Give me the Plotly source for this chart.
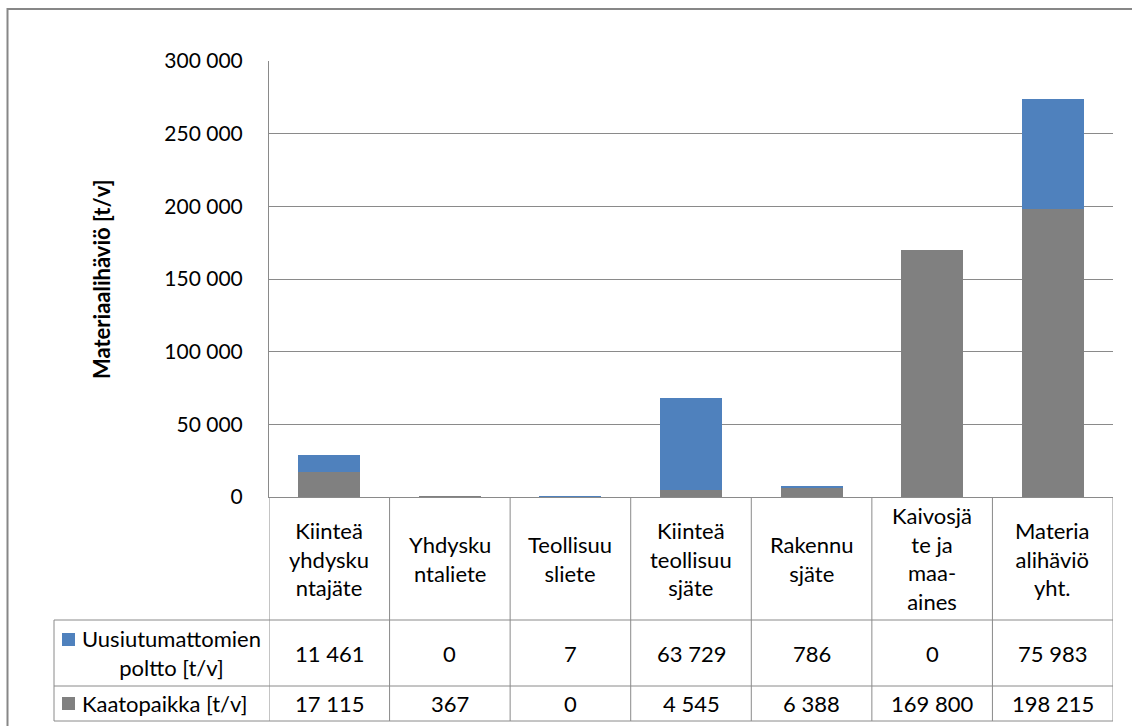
import plotly.graph_objects as go

# Waste categories (pre-wrapped the way they appear in the data table header)
categories = [
    "Kiinteä<br>yhdysku<br>ntajäte",
    "Yhdysku<br>ntaliete",
    "Teollisuu<br>sliete",
    "Kiinteä<br>teollisuu<br>sjäte",
    "Rakennu<br>sjäte",
    "Kaivosjä<br>te ja<br>maa-<br>aines",
    "Materia<br>alihäviö<br>yht.",
]

series_names = ["Uusiutumattomien<br>poltto [t/v]", "Kaatopaikka [t/v]"]

# Material loss by treatment route [t/v]
poltto = [11461, 0, 7, 63729, 786, 0, 75983]
kaatopaikka = [17115, 367, 0, 4545, 6388, 169800, 198215]

y_ticks = [0, 50000, 100000, 150000, 200000, 250000, 300000]

BLUE = "#4F81BD"
GRAY = "#808080"
LINE = "#8a8a8a"
FONT = "Lato"
FS = 22
FS_TICK = 21

W, H = 1132, 726
ML, MR, MT, MB = 269, 19, 61, 229
PW, PH = W - ML - MR, H - MT - MB


def px(xpix):
    return (xpix - ML) / PW


def py(ypix):
    return 1 - (ypix - MT) / PH


def fmt(v):
    return f"{v:,}".replace(",", " ")


n = len(categories)
xs = list(range(n))

fig = go.Figure()
fig.add_trace(go.Bar(x=xs, y=kaatopaikka, marker=dict(color=GRAY, line=dict(width=0)),
                     name="Kaatopaikka [t/v]"))
fig.add_trace(go.Bar(x=xs, y=poltto, marker=dict(color=BLUE, line=dict(width=0)),
                     name="Uusiutumattomien poltto [t/v]"))

shapes = []
annotations = []
txt = dict(family=FONT, size=FS, color="#000")

# outer chart frame (continues past the right and bottom edges)
shapes.append(dict(type="rect", xref="paper", yref="paper",
                   x0=px(7.5), x1=px(W + 20), y0=py(9), y1=py(H + 20),
                   line=dict(color="#878787", width=2), fillcolor="rgba(0,0,0,0)", layer="below"))

# data table: vertical column borders at category boundaries
row_top, row_cat, row_mid, row_bot = 497, 620, 686, 721
for i in range(n + 1):
    shapes.append(dict(type="line", xref="x", yref="paper",
                       x0=i - 0.5, x1=i - 0.5, y0=py(row_top), y1=py(row_bot),
                       line=dict(color=LINE, width=1)))
# legend column left border
shapes.append(dict(type="line", xref="paper", yref="paper",
                   x0=px(54), x1=px(54), y0=py(row_cat), y1=py(row_bot),
                   line=dict(color=LINE, width=1)))
# horizontal row borders
for yy in (row_cat, row_mid, row_bot):
    shapes.append(dict(type="line", xref="paper", yref="paper",
                       x0=px(54), x1=1, y0=py(yy), y1=py(yy),
                       line=dict(color=LINE, width=1)))

# category header cells
for i, c in enumerate(categories):
    annotations.append(dict(x=i, xref="x", y=py((row_top + row_cat) / 2), yref="paper",
                            text=c, showarrow=False, xanchor="center", yanchor="middle",
                            align="center", font=txt))

# value rows
for vals, yc in ((poltto, (row_cat + row_mid) / 2), (kaatopaikka, (row_mid + row_bot) / 2)):
    for i, v in enumerate(vals):
        annotations.append(dict(x=i, xref="x", y=py(yc), yref="paper",
                                text=fmt(v), showarrow=False, xanchor="center", yanchor="middle",
                                font=txt))

# legend keys in the table
for color, yc in ((BLUE, 639.5), (GRAY, 703.5)):
    shapes.append(dict(type="rect", xref="paper", yref="paper",
                       x0=px(62), x1=px(75), y0=py(yc - 6.5), y1=py(yc + 6.5),
                       line=dict(width=0), fillcolor=color))
annotations.append(dict(x=px(171), xref="paper", y=py((row_cat + row_mid) / 2), yref="paper",
                        text=series_names[0], showarrow=False, xanchor="center", yanchor="middle",
                        align="center", font=txt))
annotations.append(dict(x=px(80), xref="paper", y=py((row_mid + row_bot) / 2), yref="paper",
                        text=series_names[1], showarrow=False, xanchor="left", yanchor="middle",
                        font=txt))

# y-axis title
annotations.append(dict(x=px(101), xref="paper", y=0.5, yref="paper",
                        text="<b>Materiaalihäviö [t/v]</b>", textangle=-90, showarrow=False,
                        xanchor="center", yanchor="middle", font=txt))

fig.update_layout(
    width=W, height=H,
    margin=dict(l=ML, r=MR, t=MT, b=MB, pad=0),
    barmode="stack", bargap=0.486,
    plot_bgcolor="white", paper_bgcolor="white",
    showlegend=False,
    separators=", ",
    shapes=shapes, annotations=annotations,
    xaxis=dict(range=[-0.5, n - 0.5], showticklabels=False, ticks="", showgrid=False,
               zeroline=False, showline=True, linecolor=LINE, linewidth=1, fixedrange=True),
    yaxis=dict(range=[0, 300000], tickvals=y_ticks, tickformat=",d",
               ticks="", ticklabelstandoff=21,
               tickfont=dict(family=FONT, size=FS_TICK, color="#000"),
               showgrid=True, gridcolor=LINE, gridwidth=1,
               zeroline=False, showline=True, linecolor=LINE, linewidth=1, fixedrange=True),
)

fig.write_html("out.html")
